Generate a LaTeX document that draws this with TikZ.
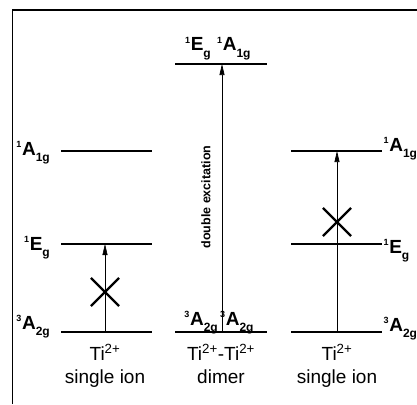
\documentclass[tikz,border=0pt]{standalone}
\usepackage{fontspec}
\setmainfont{Liberation Sans}
\usetikzlibrary{positioning,arrows.meta,shapes.misc}

% term symbol: small left superscript, letter, subscript
\newcommand\termsym[3]{\raisebox{7.5pt}{\fontsize{9}{9}\selectfont#1}\kern0.6pt#2\raisebox{-6pt}{\fontsize{12}{12}\selectfont#3}}

\begin{document}
\begin{tikzpicture}[x=1pt, y=-1pt,
    every node/.style={font=\fontsize{19}{22}\selectfont, inner sep=0pt},
    lvl/.style={line width=2pt},
    term/.style={font=\fontsize{19}{21}\selectfont\bfseries, inner sep=0pt},
    arr/.style={-{Triangle[length=11pt,width=5pt]}, line width=0.7pt},
    block/.style={draw, cross out, minimum size=26pt, inner sep=0pt, line width=2.2pt}
]
\useasboundingbox (0,0) rectangle (417,404);
% frame
\draw[line width=0.9pt] (12,404) -- (12,10);
\draw[line width=1.6pt] (12,10) -- (417,10);

% single ion (left)
\coordinate (lA1a) at (61,151);  \coordinate (lA1b) at (152,151);
\coordinate (lEa)  at (61,244);  \coordinate (lEb)  at (152,244);
\coordinate (lA2a) at (61,332);  \coordinate (lA2b) at (152,332);
\draw[lvl] (lA1a) -- (lA1b);
\draw[lvl] (lEa) -- (lEb);
\draw[lvl] (lA2a) -- (lA2b);
\node[term, anchor=base east] (lA1t) at (50,155) {\termsym{1}{A}{1g}};
\node[term, anchor=base east] (lEt) at (50,250) {\termsym{1}{E}{g}};
\node[term, anchor=base east] (lA2t) at (50,329) {\termsym{3}{A}{2g}};
\coordinate (lup) at (105,244); \coordinate (lgs) at (105,332);
\draw[arr, line width=0.5pt] (lgs) -- (lup);
\node[block] (lx) at (105,292) {};
\node[anchor=base] (lname) at (105,360) {Ti\textsuperscript{2+}};
\node[anchor=base] (lkind) at (105,383) {single ion};

% dimer (middle)
\coordinate (mTa) at (175,64);  \coordinate (mTb) at (267,64);
\coordinate (mGa) at (175,332); \coordinate (mGb) at (267,332);
\draw[lvl] (mTa) -- (mTb);
\draw[lvl] (mGa) -- (mGb);
\coordinate (mup) at (222,64); \coordinate (mgs) at (222,332);
\draw[arr] (mgs) -- (mup);
\node[term, anchor=base east] (mEt) at (211,51) {\termsym{1}{E}{g}};
\node[term, anchor=base west] (mA1t) at (217,51) {\termsym{1}{A}{1g}};
\node[term, anchor=base east] (mA2l) at (218,325) {\termsym{3}{A}{2g}};
\node[term, anchor=base west] (mA2r) at (220,325) {\termsym{3}{A}{2g}};
\node[rotate=90, font=\fontsize{12.5}{14}\selectfont\bfseries] (dbl) at (206,197) {double excitation};
\node[anchor=base] (mname) at (221,360) {Ti\textsuperscript{2+}-Ti\textsuperscript{2+}};
\node[anchor=base] (mkind) at (221,383) {dimer};

% single ion (right)
\coordinate (rA1a) at (291,151);  \coordinate (rA1b) at (382,151);
\coordinate (rEa)  at (291,244);  \coordinate (rEb)  at (382,244);
\coordinate (rA2a) at (291,332);  \coordinate (rA2b) at (382,332);
\draw[lvl] (rA1a) -- (rA1b);
\draw[line width=1.3pt] (rEa) -- (rEb);
\draw[lvl] (rA2a) -- (rA2b);
\node[term, anchor=base west] (rA1t) at (383.5,151) {\termsym{1}{A}{1g}};
\node[term, anchor=base west] (rEt) at (383.5,253) {\termsym{1}{E}{g}};
\node[term, anchor=base west] (rA2t) at (383.5,331) {\termsym{3}{A}{2g}};
\coordinate (rup) at (337,151); \coordinate (rgs) at (337,332);
\draw[arr] (rgs) -- (rup);
\node[block] (rx) at (337,222) {};
\node[anchor=base] (rname) at (337,360) {Ti\textsuperscript{2+}};
\node[anchor=base] (rkind) at (337,383) {single ion};
\end{tikzpicture}
\end{document}
